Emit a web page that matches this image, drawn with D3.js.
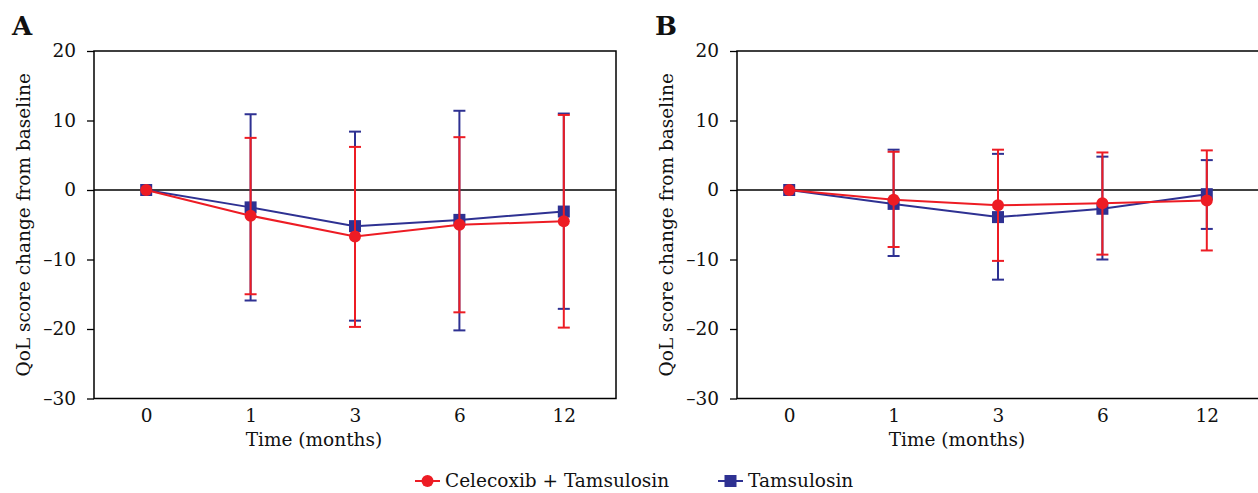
<!DOCTYPE html>
<html>
<head>
<meta charset="utf-8">
<script src="https://cdn.jsdelivr.net/npm/d3@7"></script>
<style>
  body { margin: 0; background: #fff; }
  text { font-family: "DejaVu Serif", serif; fill: #111; }
</style>
</head>
<body>
<div id="chart"></div>
<script>
// time points (months)
var months = ["0", "1", "3", "6", "12"];

// Panel A
var aCombo = [0, -3.7, -6.7, -5.0, -4.5];
var aComboHi = [0, 7.5, 6.2, 7.6, 10.8];
var aComboLo = [0, -15.0, -19.7, -17.6, -19.8];
var aTams = [0, -2.5, -5.2, -4.3, -3.1];
var aTamsHi = [0, 10.9, 8.4, 11.4, 11.0];
var aTamsLo = [0, -15.9, -18.8, -20.2, -17.1];

// Panel B
var bCombo = [0, -1.4, -2.2, -1.9, -1.5];
var bComboHi = [0, 5.5, 5.8, 5.4, 5.7];
var bComboLo = [0, -8.2, -10.2, -9.3, -8.7];
var bTams = [0, -2.0, -3.9, -2.7, -0.6];
var bTamsHi = [0, 5.8, 5.2, 4.8, 4.3];
var bTamsLo = [0, -9.5, -12.9, -10.0, -5.6];

var yTicks = [20, 10, 0, -10, -20, -30];

var red = "#ed1c24", blue = "#2e3192";
var fs = 18.5;

var width = 1258, height = 493;
var svg = d3.select("#chart").append("svg")
    .attr("width", width)
    .attr("height", height);

function series(vals, hi, lo) {
  return vals.map(function(v, i) { return {x: months[i], y: v, hi: hi[i], lo: lo[i]}; });
}

function panel(letter, left, right, combo, tams) {
  var top = 51, bottom = 398.5;
  var x = d3.scalePoint().domain(months).range([left, right]).padding(0.5);
  var y = d3.scaleLinear().domain([-30, 20]).range([bottom, top]);

  var g = svg.append("g");

  // frame
  g.append("rect")
      .attr("x", left).attr("y", top)
      .attr("width", right - left).attr("height", bottom - top)
      .attr("fill", "none").attr("stroke", "#000").attr("stroke-width", 1.5);

  // zero line
  g.append("line")
      .attr("x1", left).attr("x2", right)
      .attr("y1", y(0)).attr("y2", y(0))
      .attr("stroke", "#000").attr("stroke-width", 1.3);

  // y axis
  var yAxis = g.append("g")
      .attr("transform", "translate(" + left + ",0)")
      .call(d3.axisLeft(y).tickValues(yTicks).tickSize(7).tickPadding(11)
        .tickFormat(function(d) { return d < 0 ? "\u2013" + Math.abs(d) : d; }));
  yAxis.select(".domain").remove();
  yAxis.selectAll("line").attr("stroke", "#000").attr("stroke-width", 1.3);
  yAxis.selectAll("text").attr("font-size", fs).attr("font-family", "DejaVu Serif, serif").attr("fill", "#111");

  // x axis labels
  var xAxis = g.append("g")
      .attr("transform", "translate(0," + bottom + ")")
      .call(d3.axisBottom(x).tickSize(0).tickPadding(10));
  xAxis.select(".domain").remove();
  xAxis.selectAll("text").attr("font-size", fs).attr("font-family", "DejaVu Serif, serif").attr("fill", "#111");

  g.append("text")
      .attr("x", (left + right) / 2 - 41).attr("y", 446)
      .attr("text-anchor", "middle").attr("font-size", fs)
      .text("Time (months)");

  g.append("text")
      .attr("transform", "translate(" + (left - 64) + "," + ((top + bottom) / 2) + ") rotate(-90)")
      .attr("text-anchor", "middle").attr("font-size", fs)
      .text("QoL score change from baseline");

  g.append("text")
      .attr("x", left - 82).attr("y", 35)
      .attr("font-size", 26).attr("font-weight", "bold")
      .attr("font-family", "Liberation Serif, serif")
      .text(letter);

  var line = d3.line()
      .x(function(d) { return x(d.x); })
      .y(function(d) { return y(d.y); });

  function drawSeries(data, color, shape) {
    var s = g.append("g");
    var bars = data.filter(function(d) { return d.hi !== d.lo; });
    s.selectAll(".eb").data(bars).enter().append("line")
        .attr("x1", function(d) { return x(d.x); })
        .attr("x2", function(d) { return x(d.x); })
        .attr("y1", function(d) { return y(d.hi); })
        .attr("y2", function(d) { return y(d.lo); })
        .attr("stroke", color).attr("stroke-width", 2);
    ["hi", "lo"].forEach(function(k) {
      s.selectAll(".cap" + k).data(bars).enter().append("line")
          .attr("x1", function(d) { return x(d.x) - 6; })
          .attr("x2", function(d) { return x(d.x) + 6; })
          .attr("y1", function(d) { return y(d[k]); })
          .attr("y2", function(d) { return y(d[k]); })
          .attr("stroke", color).attr("stroke-width", 2);
    });
    s.append("path").datum(data)
        .attr("d", line)
        .attr("fill", "none").attr("stroke", color).attr("stroke-width", 2);
    if (shape === "square") {
      s.selectAll(".m").data(data).enter().append("rect")
          .attr("x", function(d) { return x(d.x) - 6; })
          .attr("y", function(d) { return y(d.y) - 6; })
          .attr("width", 12).attr("height", 12)
          .attr("fill", color);
    } else {
      s.selectAll(".m").data(data).enter().append("circle")
          .attr("cx", function(d) { return x(d.x); })
          .attr("cy", function(d) { return y(d.y); })
          .attr("r", 6)
          .attr("fill", color);
    }
  }

  drawSeries(tams, blue, "square");
  drawSeries(combo, red, "circle");
}

panel("A", 94, 616,
  series(aCombo, aComboHi, aComboLo), series(aTams, aTamsHi, aTamsLo));
panel("B", 737, 1259,
  series(bCombo, bComboHi, bComboLo), series(bTams, bTamsHi, bTamsLo));

// legend
var legend = svg.append("g");
var items = [
  {label: "Celecoxib + Tamsulosin", color: red, shape: "circle", x: 415},
  {label: "Tamsulosin", color: blue, shape: "square", x: 718}
];
var ly = 481;
items.forEach(function(it) {
  legend.append("line")
      .attr("x1", it.x).attr("x2", it.x + 25)
      .attr("y1", ly).attr("y2", ly)
      .attr("stroke", it.color).attr("stroke-width", 2);
  if (it.shape === "circle") {
    legend.append("circle").attr("cx", it.x + 12.5).attr("cy", ly).attr("r", 6).attr("fill", it.color);
  } else {
    legend.append("rect").attr("x", it.x + 6.5).attr("y", ly - 6).attr("width", 12).attr("height", 12).attr("fill", it.color);
  }
  legend.append("text")
      .attr("x", it.x + 30).attr("y", ly + 6)
      .attr("font-size", fs)
      .text(it.label);
});
</script>
</body>
</html>
